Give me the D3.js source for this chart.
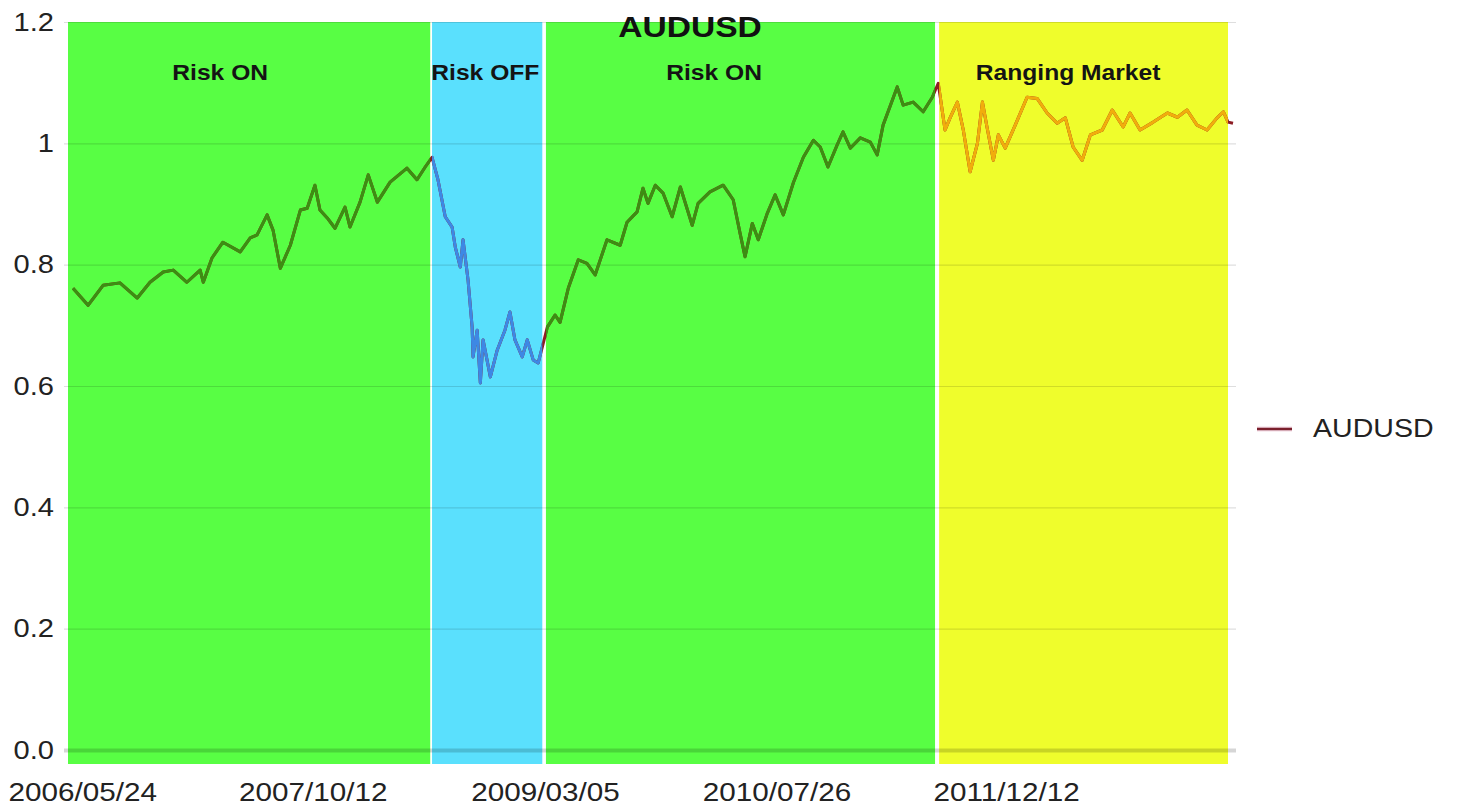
<!DOCTYPE html>
<html>
<head>
<meta charset="utf-8">
<script src="https://cdn.jsdelivr.net/npm/d3@7"></script>
<style>
  body { margin: 0; background: #fff; }
  text { font-family: "Liberation Sans", Arial, Helvetica, sans-serif; }
</style>
</head>
<body>
<svg id="chart" width="1460" height="806"></svg>
<script>

// AUDUSD readings (date, close)
var dates = [
  "2006-05-04","2006-06-06","2006-07-09","2006-08-15","2006-09-22","2006-10-20","2006-11-18","2006-12-10",
  "2007-01-09","2007-02-07","2007-02-14","2007-03-05","2007-03-29","2007-05-06","2007-05-28","2007-06-12",
  "2007-07-04","2007-07-17","2007-08-02","2007-08-24","2007-09-15","2007-09-30","2007-10-17","2007-10-28",
  "2007-11-13","2007-11-30","2007-12-22","2008-01-02","2008-01-24","2008-02-11","2008-03-02","2008-03-30",
  "2008-05-06","2008-05-28","2008-06-15","2008-06-30","2008-07-13","2008-07-29","2008-08-13","2008-08-20",
  "2008-08-31","2008-09-06","2008-09-17","2008-09-26","2008-09-28","2008-10-07","2008-10-14","2008-10-20",
  "2008-11-05","2008-11-20","2008-12-07","2008-12-18","2008-12-29","2009-01-14","2009-01-25","2009-02-07",
  "2009-02-18","2009-02-27","2009-03-10","2009-03-27","2009-04-07","2009-04-25","2009-05-17","2009-06-05",
  "2009-06-23","2009-07-19","2009-08-17","2009-09-01","2009-09-23","2009-10-06","2009-10-17","2009-11-02",
  "2009-11-19","2009-12-09","2009-12-27","2010-01-22","2010-02-04","2010-03-02","2010-03-31","2010-04-22",
  "2010-05-07","2010-05-18","2010-06-03","2010-06-16","2010-07-06","2010-07-23","2010-08-10","2010-09-01",
  "2010-09-23","2010-10-15","2010-10-30","2010-11-16","2010-12-06","2010-12-19","2011-01-04","2011-01-26",
  "2011-02-17","2011-03-04","2011-03-17","2011-04-17","2011-04-30","2011-05-22","2011-06-13","2011-07-03",
  "2011-07-16","2011-07-31","2011-08-11","2011-08-27","2011-09-09","2011-09-24","2011-10-10","2011-10-21",
  "2011-10-31","2011-11-14","2011-11-25","2011-12-10","2012-01-01","2012-01-27","2012-02-18","2012-03-11",
  "2012-04-02","2012-04-20","2012-05-07","2012-05-27","2012-06-14","2012-07-10","2012-08-01","2012-08-25",
  "2012-09-09","2012-10-01","2012-10-30","2012-11-30","2012-12-22","2013-01-12","2013-02-03","2013-02-25",
  "2013-03-19","2013-04-02","2013-04-12","2013-04-23"
]
var values = [
  0.761,0.733,0.766,0.770,0.745,0.771,0.788,0.791,
  0.771,0.791,0.771,0.811,0.837,0.821,0.844,0.849,
  0.882,0.857,0.794,0.832,0.890,0.893,0.931,0.890,
  0.877,0.860,0.895,0.862,0.903,0.948,0.903,0.936,
  0.959,0.940,0.961,0.977,0.940,0.879,0.862,0.829,
  0.796,0.841,0.775,0.697,0.648,0.692,0.605,0.676,
  0.615,0.659,0.692,0.722,0.676,0.648,0.676,0.643,
  0.638,0.664,0.697,0.717,0.705,0.761,0.808,0.802,
  0.783,0.841,0.832,0.870,0.887,0.926,0.901,0.931,
  0.918,0.879,0.928,0.865,0.901,0.920,0.931,0.907,
  0.852,0.813,0.868,0.841,0.885,0.915,0.882,0.935,
  0.977,1.005,0.994,0.961,0.997,1.019,0.992,1.009,
  1.002,0.981,1.030,1.093,1.063,1.068,1.052,1.076,
  1.099,1.022,1.042,1.068,1.022,0.953,1.000,1.068,
  1.027,0.972,1.014,0.992,1.030,1.076,1.074,1.050,
  1.033,1.042,0.994,0.972,1.014,1.022,1.055,1.027,
  1.050,1.022,1.035,1.050,1.043,1.055,1.030,1.022,
  1.042,1.052,1.035,1.033
]

// market regimes shaded behind the line
var regimeNames = ["Risk ON", "Risk OFF", "Risk ON", "Ranging Market"]
var regimeStart = ["2006-04-23", "2008-06-30", "2009-03-07", "2011-07-18"]
var regimeEnd   = ["2008-06-26", "2009-02-27", "2011-07-09", "2013-04-12"]
var regimeLabelAt = ["2007-03-23", "2008-10-25", "2010-03-11", "2012-04-26"]
var regimeFill = ["#58fe44", "#5ae0fd", "#58fe44", "#effd2c"]
var regimeLine = ["#3b8f12", "#3d88e4", "#3b8f12", "#f1ad0c"]

var yTicks = [0, 0.2, 0.4, 0.6, 0.8, 1, 1.2]
var yTickLabels = ["0.0", "0.2", "0.4", "0.6", "0.8", "1", "1.2"]
var xTicks = ["2006-05-24", "2007-10-12", "2009-03-05", "2010-07-26", "2011-12-12"]

var seriesName = "AUDUSD"
var lineColor = "#8c1c24"

var parse = d3.timeParse("%Y-%m-%d")
var fmt = d3.timeFormat("%Y/%m/%d")
var stretch = "scale(1.12,1)"

var data = dates.map(function(d, i){ return {date: parse(d), value: values[i]} })
var regimes = regimeNames.map(function(n, i){
  return {name: n, start: parse(regimeStart[i]), end: parse(regimeEnd[i]),
          label: parse(regimeLabelAt[i]), fill: regimeFill[i], line: regimeLine[i]}
})

var plotLeft = 68, plotRight = 1228, plotTop = 22, plotBottom = 750

var x = d3.scaleTime()
    .domain([parse("2006-04-23"), parse("2013-04-12")])
    .range([plotLeft, plotRight])
var y = d3.scaleLinear()
    .domain([0, 1.2])
    .range([plotBottom, plotTop])

var svg = d3.select("#chart")

// regime bands
svg.append("g").selectAll("rect")
    .data(regimes)
  .enter().append("rect")
    .attr("x", function(d){ return x(d.start) })
    .attr("y", y(1.2))
    .attr("width", function(d){ return x(d.end) - x(d.start) })
    .attr("height", y(0) - y(1.2) + 14)
    .attr("fill", function(d){ return d.fill })

// y axis + gridlines
var yAxis = svg.append("g")
    .attr("transform", "translate(64,0)")
    .call(d3.axisLeft(y)
      .tickValues(yTicks)
      .tickSize(-1172)
      .tickPadding(9)
      .tickFormat(function(d, i){ return yTickLabels[i] }))
yAxis.select(".domain").remove()
yAxis.selectAll(".tick line")
    .attr("stroke", "#000")
    .attr("stroke-opacity", function(d){ return d === 0 ? 0.16 : 0.13 })
    .attr("stroke-width", function(d){ return d === 0 ? 4 : 1.2 })
yAxis.selectAll(".tick text")
    .attr("transform", stretch)
    .attr("fill", "#222")
    .style("font-size", "26px")

// x axis labels
var xAxis = svg.append("g")
    .attr("transform", "translate(0," + plotBottom + ")")
    .call(d3.axisBottom(x)
      .tickValues(xTicks.map(parse))
      .tickSize(0)
      .tickFormat(fmt))
xAxis.select(".domain").remove()
xAxis.selectAll(".tick text")
    .attr("y", 51)
    .attr("dy", 0)
    .attr("transform", stretch)
    .attr("fill", "#222")
    .style("font-size", "26.5px")

// the series: dark red underneath, recoloured inside each band
var line = d3.line()
    .x(function(d){ return x(d.date) })
    .y(function(d){ return y(d.value) })

var defs = svg.append("defs")
defs.selectAll("clipPath")
    .data(regimes)
  .enter().append("clipPath")
    .attr("id", function(d, i){ return "clip" + i })
  .append("rect")
    .attr("x", function(d){ return x(d.start) })
    .attr("y", 0)
    .attr("width", function(d){ return x(d.end) - x(d.start) })
    .attr("height", 806)

svg.append("path")
    .datum(data)
    .attr("d", line)
    .attr("fill", "none")
    .attr("stroke", lineColor)
    .attr("stroke-width", 3)
    .attr("stroke-linejoin", "round")

svg.append("g").selectAll("path")
    .data(regimes)
  .enter().append("path")
    .attr("d", line(data))
    .attr("clip-path", function(d, i){ return "url(#clip" + i + ")" })
    .attr("fill", "none")
    .attr("stroke", function(d){ return d.line })
    .attr("stroke-width", 3)
    .attr("stroke-linejoin", "round")

// title
svg.append("text")
    .attr("transform", "translate(690,37) " + stretch)
    .attr("text-anchor", "middle")
    .style("font-size", "30px")
    .style("font-weight", "bold")
    .attr("fill", "#111")
    .text(seriesName)

// regime labels
svg.append("g").selectAll("text")
    .data(regimes)
  .enter().append("text")
    .attr("transform", function(d){ return "translate(" + x(d.label) + ",80) " + stretch })
    .attr("text-anchor", "middle")
    .style("font-size", "22px")
    .style("font-weight", "bold")
    .attr("fill", "#141414")
    .text(function(d){ return d.name })

// legend
var legend = svg.append("g").attr("transform", "translate(1257,429)")
legend.append("line")
    .attr("x1", 0).attr("x2", 35)
    .attr("stroke", "#e8b5c8").attr("stroke-width", 5).attr("stroke-opacity", 0.5)
legend.append("line")
    .attr("x1", 0).attr("x2", 35)
    .attr("stroke", "#7a1f2c").attr("stroke-width", 2.5)
legend.append("text")
    .attr("transform", "translate(56,8) " + stretch)
    .style("font-size", "25.5px")
    .attr("fill", "#222")
    .text(seriesName)

</script>
</body>
</html>
